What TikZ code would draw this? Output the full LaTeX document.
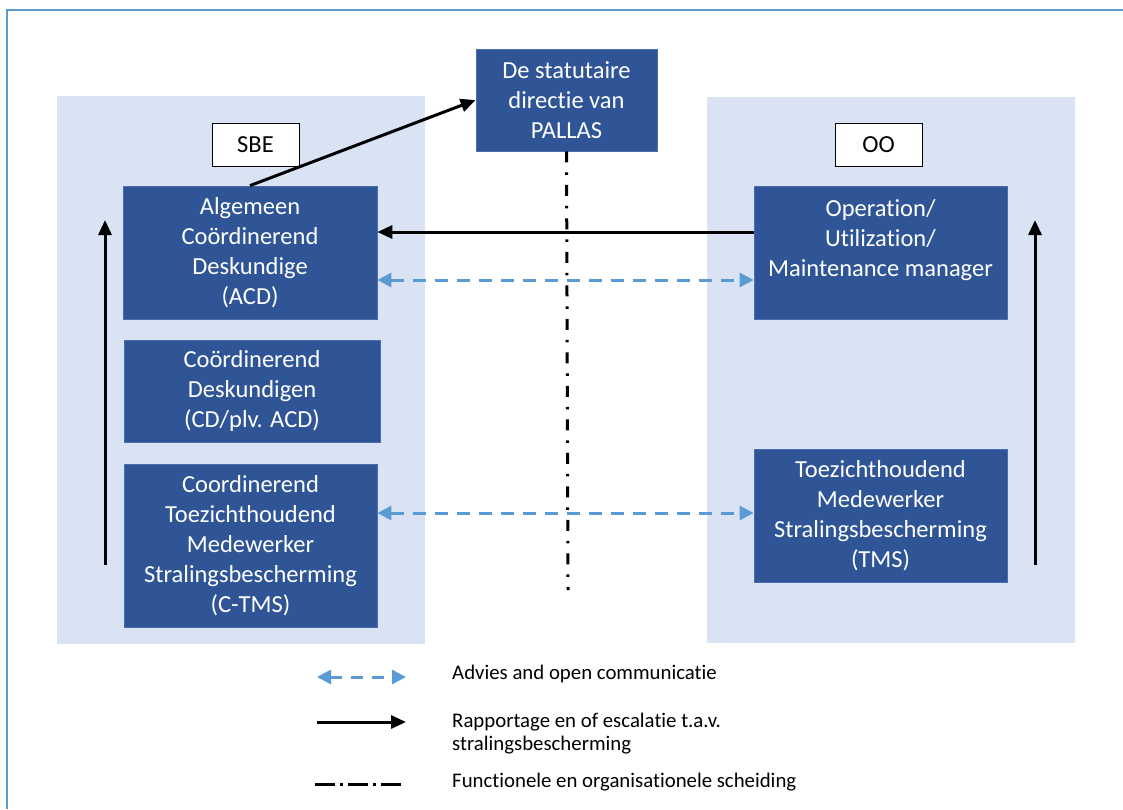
\documentclass[tikz,border=0pt]{standalone}
\usepackage{fontspec}
\setmainfont{Carlito}[Ligatures=NoCommon]
\usetikzlibrary{arrows.meta}
\definecolor{darkblue}{HTML}{2F5597}
\definecolor{panelblue}{HTML}{DAE3F3}
\definecolor{midblue}{HTML}{5B9BD5}
\definecolor{edgeblue}{HTML}{4A6FAF}
\begin{document}
\begin{tikzpicture}[x=1pt,y=-1pt,
  panel/.style={fill=panelblue, draw=none, inner sep=0pt},
  role/.style={fill=darkblue, draw=edgeblue, line width=0.8pt, text=white, align=center,
    font=\fontsize{24.5}{30}\selectfont, inner sep=0pt},
  tag/.style={fill=white, draw=black, line width=1pt, inner sep=0pt,
    font=\fontsize{24.5}{28}\selectfont},
  report/.style={line width=3pt, -{Triangle[length=15pt,width=13pt]}},
  advice/.style={line width=3pt, midblue, dash pattern=on 13pt off 9pt,
    {Triangle[length=14pt,width=14pt]}-{Triangle[length=14pt,width=14pt]}},
  separation/.style={line width=3pt, dash pattern=on 11pt off 10pt on 2.5pt off 10pt},
  legendsep/.style={line width=3pt, dash pattern=on 20pt off 5pt on 3pt off 5pt},
  legendtext/.style={inner sep=0pt, anchor=base west, font=\fontsize{20.8}{23}\selectfont}
]
\useasboundingbox (0,0) rectangle (1123,809);
% outer frame
\draw[midblue, line width=2pt] (7,809) -- (7,10) -- (1123,10);

% panels
\node[panel, minimum width=368pt, minimum height=548pt] (lpanel) at (241,370) {};
\node[panel, minimum width=368pt, minimum height=546pt] (rpanel) at (891,370) {};

% boxes
\node[role, minimum width=181pt, minimum height=102pt] (dir) at (566.5,100)
  {De statutaire\\directie van\\PALLAS};
\node[tag, minimum width=87pt, minimum height=43pt] (sbe) at (255.5,144.5) {SBE};
\node[tag, minimum width=87pt, minimum height=43pt] (oo) at (878.5,144.5) {OO};
\node[role, minimum width=254pt, minimum height=133pt] (acd) at (250,252.5)
  {Algemeen\\Coördinerend\\Deskundige\\(ACD)};
\node[role, minimum width=256pt, minimum height=102pt] (cd) at (252,391)
  {Coördinerend\\Deskundigen\\(CD/plv. ACD)};
\node[role, minimum width=253pt, minimum height=163pt] (ctms) at (250.5,545.5)
  {Coordinerend\\Toezichthoudend\\Medewerker\\Stralingsbescherming\\(C-TMS)};
\node[role, minimum width=253pt, minimum height=133pt] (oum) at (880.5,252.5)
  {Operation/\\Utilization/\\Maintenance manager\\\mbox{}};
\node[role, minimum width=253pt, minimum height=133pt] (tms) at (880.5,515.5)
  {Toezichthoudend\\Medewerker\\Stralingsbescherming\\(TMS)};

% separation line
\coordinate (sepend) at (568,590);
\draw[separation] (dir.south) -- (sepend);

% connectors
\draw[report] (acd.north) -- (dir.west);
\coordinate (oumA) at ([yshift=20.5pt]oum.west);
\draw[report] (oumA) -- (acd.east |- oumA);
\coordinate (acdB) at ([yshift=-27.5pt]acd.east);
\draw[advice] (acdB) -- (oum.west |- acdB);
\coordinate (ctmsB) at ([yshift=32.5pt]ctms.east);
\draw[advice] (ctmsB) -- (tms.west |- ctmsB);

\coordinate (lbot) at (105,565);
\coordinate (ltop) at (105,220);
\draw[report] (lbot) -- (ltop);
\coordinate (rbot) at (1035,565);
\coordinate (rtop) at (1035,220);
\draw[report] (rbot) -- (rtop);

% legend
\coordinate (l1a) at (317,677);
\coordinate (l1b) at (406,677);
\draw[advice, dash pattern=on 12pt off 9pt] (l1a) -- (l1b);
\node[legendtext] (t1) at (452,679) {Advies and open communicatie};
\coordinate (l2a) at (317,722);
\coordinate (l2b) at (406,722);
\draw[report] (l2a) -- (l2b);
\node[legendtext] (t2) at (452,727) {Rapportage en of escalatie t.a.v.};
\node[legendtext] (t2b) at (452,750) {stralingsbescherming};
\coordinate (l3a) at (315,784);
\coordinate (l3b) at (405,784);
\draw[legendsep] (l3a) -- (l3b);
\node[legendtext] (t3) at (452,787) {Functionele en organisationele scheiding};
\end{tikzpicture}
\end{document}
